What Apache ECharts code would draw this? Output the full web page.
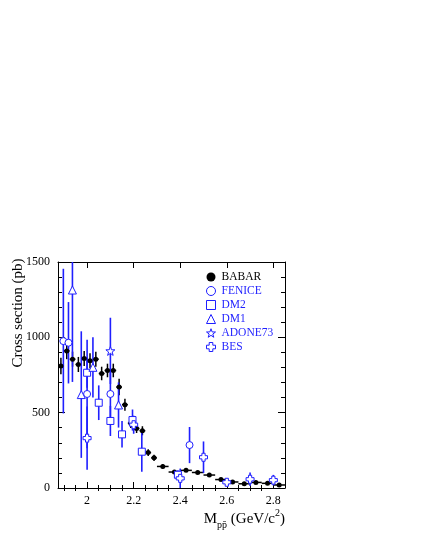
<!DOCTYPE html>
<html>
<head>
<meta charset="utf-8">
<script src="https://cdn.jsdelivr.net/npm/echarts@6/dist/echarts.min.js"></script>
<style>
  html, body { margin: 0; padding: 0; background: #fff; }
  #chart { width: 423px; height: 547px; }
</style>
</head>
<body>
<div id="chart"></div>
<script>
// BABAR
const babarX = [1.8875, 1.9125, 1.9375, 1.9625, 1.9875, 2.0125, 2.0375, 2.0625, 2.0875, 2.1125, 2.1375, 2.1625, 2.1875, 2.2125, 2.2375, 2.2625, 2.2875, 2.325, 2.375, 2.425, 2.475, 2.525, 2.575, 2.625, 2.675, 2.725, 2.775, 2.825];
const babarY = [810, 910, 855, 820, 860, 845, 855, 760, 780, 780, 670, 553, 430, 395, 380, 235, 200, 143, 106, 117, 103, 86, 56, 40, 28, 37, 31, 20];
const babarErr = [55, 55, 50, 50, 50, 50, 50, 45, 45, 45, 55, 40, 32, 30, 30, 22, 20, 14, 12, 11, 10, 9, 8, 7, 6, 6, 6, 5];
const babarHalfW = [0.0125, 0.0125, 0.0125, 0.0125, 0.0125, 0.0125, 0.0125, 0.0125, 0.0125, 0.0125, 0.0125, 0.0125, 0.0125, 0.0125, 0.0125, 0.0125, 0.0125, 0.025, 0.025, 0.025, 0.025, 0.025, 0.025, 0.025, 0.025, 0.025, 0.025, 0.025];
// FENICE
const feniceX = [1.898, 1.92, 2.0, 2.1, 2.44];
const feniceY = [975, 964, 624, 624, 285];
const feniceErr = [480, 270, 360, 170, 120];
// DM2
const dm2X = [2.0, 2.05, 2.1, 2.15, 2.195, 2.235, 2.39];
const dm2Y = [765, 566, 445, 356, 451, 241, 88];
const dm2Err = [100, 115, 100, 88, 70, 133, 30];
// DM1
const dm1X = [1.937, 1.975, 2.025, 2.135];
const dm1Y = [1314, 620, 801, 551];
const dm1Err = [610, 420, 200, 150];
// ADONE73
const adoneX = [2.1];
const adoneY = [910];
const adoneErr = [220];
// BES
const besX = [2.0, 2.2, 2.4, 2.5, 2.6, 2.7, 2.8];
const besY = [331, 420, 64, 204, 38, 58, 52];
const besErr = [210, 60, 65, 105, 15, 45, 35];

// axis ticks
const xLabels = [2, 2.2, 2.4, 2.6, 2.8];
const xMinorTicks = [1.9, 1.95, 2.05, 2.1, 2.15, 2.25, 2.3, 2.35, 2.45, 2.5, 2.55, 2.65, 2.7, 2.75];

const X_MIN = 1.875, X_MAX = 2.85, Y_MIN = 0, Y_MAX = 1500;
const BLUE = '#1f1fff';
const serif = '"Liberation Serif", "DejaVu Serif", serif';

const starPath = 'path://M10,0 L12.35,6.76 L19.51,6.91 L13.80,11.24 L15.88,18.09 L10,14 L4.12,18.09 L6.20,11.24 L0.49,6.91 L7.65,6.76 Z';
const crossPath = 'path://M3,0 L7,0 L7,3 L10,3 L10,7 L7,7 L7,10 L3,10 L3,7 L0,7 L0,3 L3,3 Z';

function zip(xs, ys) { return xs.map((x, i) => [x, ys[i]]); }
function errData(xs, ys, es, hw) {
  return xs.map((x, i) => [x, ys[i], es[i], hw ? hw[i] : 0]);
}

function errSeries(name, data, color, width) {
  return {
    name: name,
    type: 'custom',
    data: data,
    z: 1,
    silent: true,
    encode: { x: 0, y: 1 },
    renderItem: function (params, api) {
      const x = api.value(0), y = api.value(1), e = api.value(2), hw = api.value(3);
      const top = api.coord([x, Math.min(y + e, Y_MAX)]);
      const bot = api.coord([x, Math.max(y - e, Y_MIN)]);
      const children = [{
        type: 'line',
        shape: { x1: top[0], y1: top[1], x2: bot[0], y2: bot[1] },
        style: { stroke: color, lineWidth: width }
      }];
      if (hw > 0) {
        const l = api.coord([x - hw, y]);
        const r = api.coord([x + hw, y]);
        children.push({
          type: 'line',
          shape: { x1: l[0], y1: l[1], x2: r[0], y2: r[1] },
          style: { stroke: color, lineWidth: width }
        });
      }
      return { type: 'group', children: children };
    }
  };
}

const hollow = { color: '#fff', borderColor: BLUE, borderWidth: 1, opacity: 1 };

function pointSeries(name, data, symbol, size, color, border) {
  return {
    name: name,
    type: 'scatter',
    data: data,
    z: 3,
    symbol: symbol,
    symbolSize: size,
    itemStyle: border ? hollow : { color: color, opacity: 1 }
  };
}

const tickLine = { lineStyle: { color: '#000', width: 1 } };

function xAxisPair(pos) {
  return [
    {
      type: 'value', position: pos, min: X_MIN, max: X_MAX,
      axisLine: { show: true, onZero: false, lineStyle: { color: '#000', width: 1 } },
      axisTick: Object.assign({ inside: true, length: 6, customValues: xLabels }, tickLine),
      axisLabel: pos === 'bottom'
        ? { show: true, customValues: xLabels, fontFamily: serif, fontSize: 12, color: '#000', margin: 7 }
        : { show: false },
      splitLine: { show: false }
    },
    {
      type: 'value', position: pos, min: X_MIN, max: X_MAX,
      axisLine: { show: false },
      axisTick: Object.assign({ inside: true, length: 3, customValues: xMinorTicks }, tickLine),
      axisLabel: { show: false },
      splitLine: { show: false }
    }
  ];
}

function yAxis(pos) {
  return {
    type: 'value', position: pos, min: Y_MIN, max: Y_MAX, interval: 500,
    axisLine: { show: true, onZero: false, lineStyle: { color: '#000', width: 1 } },
    axisTick: Object.assign({ show: true, inside: true, length: 7 }, tickLine),
    minorTick: { show: true, splitNumber: 5, length: 4, lineStyle: { color: '#000', width: 1 } },
    axisLabel: pos === 'left'
      ? { show: true, fontFamily: serif, fontSize: 12, color: '#000', margin: 8, formatter: v => String(v) }
      : { show: false },
    splitLine: { show: false },
    minorSplitLine: { show: false }
  };
}

const chart = echarts.init(document.getElementById('chart'));
const option = {
  animation: false,
  backgroundColor: '#fff',
  grid: { left: 58, top: 262, right: 138, bottom: 59, containLabel: false },
  xAxis: xAxisPair('bottom').concat(xAxisPair('top')),
  yAxis: [yAxis('left'), yAxis('right')],
  legend: {
    left: 201, top: 265, orient: 'vertical',
    itemWidth: 9, itemHeight: 9, itemGap: 0,
    selectedMode: false,
    textStyle: { fontFamily: serif, fontSize: 11.5, lineHeight: 14, color: BLUE, padding: [0, 0, 0, 1] },
    data: [
      { name: 'BABAR', icon: 'circle', itemStyle: { color: '#000', borderWidth: 0 }, textStyle: { color: '#000' } },
      { name: 'FENICE', icon: 'circle', itemStyle: hollow },
      { name: 'DM2', icon: 'rect', itemStyle: hollow },
      { name: 'DM1', icon: 'triangle', itemStyle: hollow },
      { name: 'ADONE73', icon: starPath, itemStyle: hollow },
      { name: 'BES', icon: crossPath, itemStyle: hollow }
    ]
  },
  graphic: [
    {
      type: 'text', x: 18, y: 313, rotation: Math.PI / 2,
      style: { text: 'Cross section (pb)', font: '15px ' + serif, fill: '#000', align: 'center', verticalAlign: 'middle' }
    },
    {
      type: 'text', right: 138, top: 508,
      style: {
        text: '{m|M}{sub|pp\u0304}{m| (GeV/c}{sup|2}{m|)}',
        fill: '#000',
        rich: {
          m: { fontFamily: serif, fontSize: 15, lineHeight: 22, verticalAlign: 'middle' },
          sub: { fontFamily: serif, fontSize: 10, lineHeight: 22, verticalAlign: 'bottom' },
          sup: { fontFamily: serif, fontSize: 10, lineHeight: 22, verticalAlign: 'top' }
        }
      }
    }
  ],
  series: [
    errSeries('BABAR err', errData(babarX, babarY, babarErr, babarHalfW), '#000', 1.5),
    errSeries('FENICE err', errData(feniceX, feniceY, feniceErr), BLUE, 1.6),
    errSeries('DM2 err', errData(dm2X, dm2Y, dm2Err), BLUE, 1.6),
    errSeries('DM1 err', errData(dm1X, dm1Y, dm1Err), BLUE, 1.6),
    errSeries('ADONE73 err', errData(adoneX, adoneY, adoneErr), BLUE, 1.6),
    errSeries('BES err', errData(besX, besY, besErr), BLUE, 1.6),
    pointSeries('BABAR', zip(babarX, babarY), 'circle', 5, '#000', false),
    pointSeries('FENICE', zip(feniceX, feniceY), 'circle', 7, BLUE, true),
    pointSeries('DM2', zip(dm2X, dm2Y), 'rect', 7, BLUE, true),
    pointSeries('DM1', zip(dm1X, dm1Y), 'triangle', 8, BLUE, true),
    pointSeries('ADONE73', zip(adoneX, adoneY), starPath, 9, BLUE, true),
    pointSeries('BES', zip(besX, besY), crossPath, 8, BLUE, true)
  ]
};
chart.setOption(option);
</script>
</body>
</html>
